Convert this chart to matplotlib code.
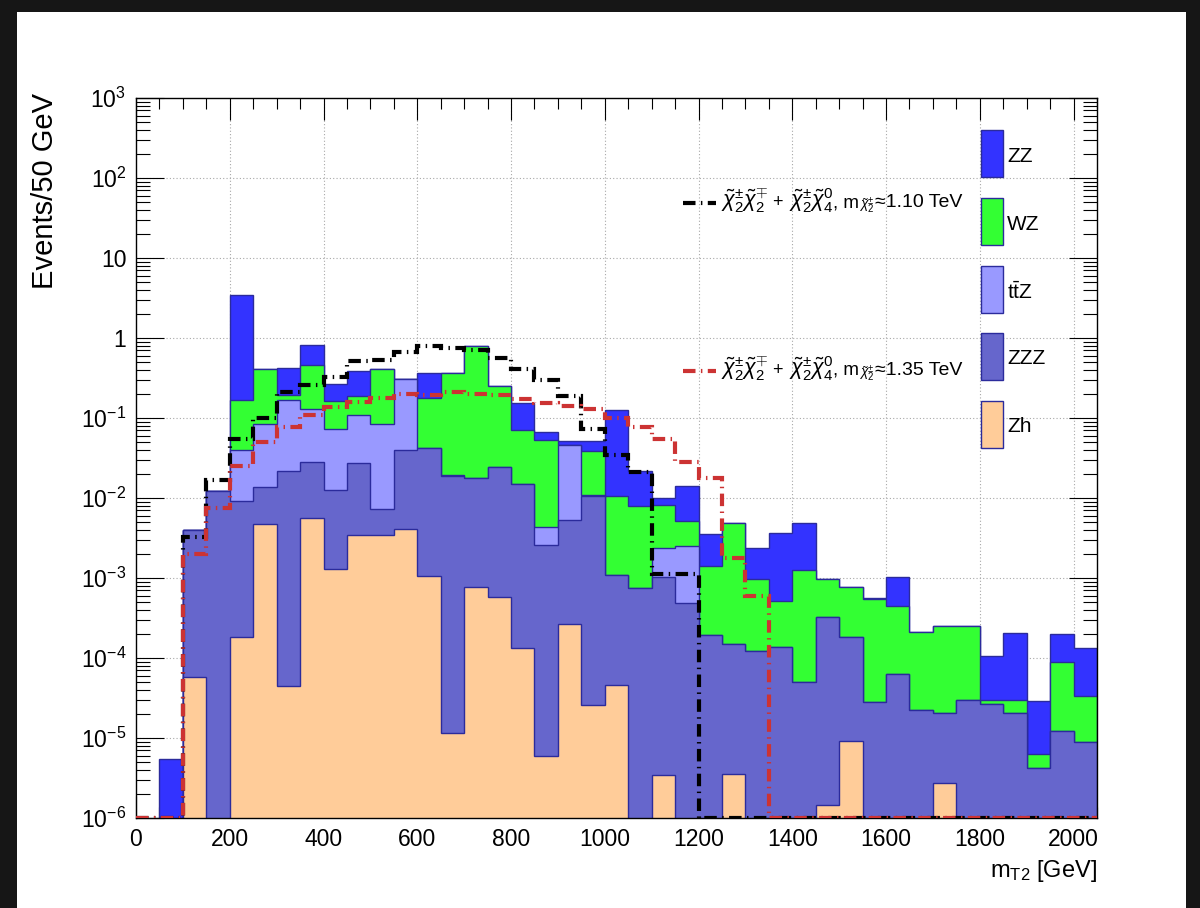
import numpy as np
import matplotlib
matplotlib.use("Agg")
import matplotlib.pyplot as plt
from matplotlib.patches import Rectangle
from matplotlib.lines import Line2D
from matplotlib.ticker import FixedLocator, LogLocator, MultipleLocator, NullFormatter

plt.rcParams["font.family"] = ["Liberation Sans", "DejaVu Sans"]
plt.rcParams["mathtext.fontset"] = "custom"
plt.rcParams["mathtext.rm"] = "Liberation Sans"
plt.rcParams["mathtext.it"] = "Liberation Sans:italic"
plt.rcParams["mathtext.bf"] = "Liberation Sans:bold"

# 50 GeV bins in mT2
edges = np.arange(0, 2051, 50)

# background yields per bin (events / 50 GeV)
zz = [0, 5.5e-6, 0, 0, 3.25, 0, 0.224, 0.36, 0.105, 0.20,
      0, 0, 0.19, 0, 0, 0, 0.083, 0.0143, 5.3e-3, 0.0125,
      0.114, 0.0137, 1.8e-3, 9.0e-3, 2.1e-3, 0, 1.36e-3, 3.15e-3, 3.6e-3, 0,
      0, 2e-5, 5.8e-4, 0, 0, 0, 7.6e-5, 1.75e-4, 2.3e-5, 1.1e-4,
      9.8e-5]
wz = [0, 0, 0, 0, 0.129, 0.322, 0.026, 0.328, 0.089, 0.078,
      0.322, 0, 0.134, 0.348, 0.769, 0.23, 0.056, 0.0484, 0, 0.028,
      9.5e-3, 7.1e-3, 5.85e-3, 2.6e-3, 1.24e-3, 4.7e-3, 8.6e-4, 3.85e-4, 1.21e-3, 6.5e-4,
      5.8e-4, 5.2e-4, 3.9e-4, 1.9e-4, 2.33e-4, 2.2e-4, 3.3e-6, 8.9e-6, 2.06e-6, 7.8e-5,
      2.5e-5]
ttz = [0, 0, 0, 0, 0.0302, 0.0705, 0.146, 0.102, 0.060, 0.080,
       0.077, 0.27, 0, 3e-4, 0, 0, 0, 1.7e-3, 0.0404, 3e-4,
       0, 0, 1.31e-3, 2.02e-3, 0, 0, 0, 0, 0, 0,
       0, 0, 0, 0, 0, 0, 0, 0, 0, 0,
       0]
zzz = [0, 0, 3.94e-3, 0.0122, 9.0e-3, 9.1e-3, 0.0218, 0.0224, 0.0114, 0.0243,
       3.83e-3, 0.0357, 0.0417, 0.0188, 0.0171, 0.0235, 0.015, 2.6e-3, 5.1e-3, 0.0106,
       1.03e-3, 7.41e-4, 1.03e-3, 4.86e-4, 1.92e-4, 1.47e-4, 1.23e-4, 1.36e-4, 5.0e-5, 3.25e-4,
       1.75e-4, 2.84e-5, 6.25e-5, 2.23e-5, 1.79e-5, 2.95e-5, 2.67e-5, 2.06e-5, 4.19e-6, 1.23e-5,
       8.87e-6]
zh = [0, 0, 5.8e-5, 0, 1.82e-4, 4.67e-3, 4.5e-5, 5.6e-3, 1.3e-3, 3.43e-3,
      3.43e-3, 4.14e-3, 1.05e-3, 1.14e-5, 7.63e-4, 5.77e-4, 1.32e-4, 5.94e-6, 2.67e-4, 2.61e-5,
      4.58e-5, 0, 3.43e-6, 0, 0, 3.53e-6, 0, 0, 0, 1.46e-6,
      9.06e-6, 0, 0, 0, 2.72e-6, 0, 0, 0, 0, 0,
      0]

# signal points
sig_110 = [0, 0, 3.3e-3, 0.017, 0.055, 0.10, 0.21, 0.255, 0.33, 0.52,
           0.53, 0.66, 0.80, 0.76, 0.71, 0.56, 0.41, 0.30, 0.19, 0.072,
           0.034, 0.021, 1.13e-3, 1.13e-3, 0, 0, 0, 0, 0, 0,
           0, 0, 0, 0, 0, 0, 0, 0, 0, 0,
           0]
sig_135 = [0, 0, 2.0e-3, 7.6e-3, 0.0254, 0.0506, 0.0763, 0.108, 0.139, 0.158,
           0.179, 0.198, 0.194, 0.21, 0.20, 0.195, 0.175, 0.155, 0.14, 0.13,
           0.099, 0.078, 0.054, 0.028, 0.0178, 1.8e-3, 5.9e-4, 0, 0, 0,
           0, 0, 0, 0, 0, 0, 0, 0, 0, 0,
           0]

bkg_names = ["Zh", "ZZZ", r"t$\bar{\mathrm{t}}$Z", "WZ", "ZZ"]
bkg_colors = ["#ffcc99", "#6666cc", "#9999ff", "#33ff33", "#3333ff"]
sig_masses = ["1.10", "1.35"]
sig_colors = ["black", "#cc3333"]

W, H = 1200, 908
EDGE = "#2b2b9c"
DASH = (0, (3.0, 1.3, 0.35, 1.3))


def fx(px):
    return px / W


def fy(py):
    return 1 - py / H


fig = plt.figure(figsize=(W / 100, H / 100), dpi=100)
ax = fig.add_axes([fx(136), fy(818), fx(1097) - fx(136), fy(98) - fy(818)])
ax.set_yscale("log")

# stacked backgrounds: draw the full sum first, lower layers on top
floor = 1e-9
cum = np.cumsum(np.array([zh, zzz, ttz, wz, zz]), axis=0)
for top, c in zip(cum[::-1], bkg_colors[::-1]):
    ax.stairs(np.where(top > 0, top, floor), edges, baseline=floor, fill=True,
              facecolor=c, edgecolor=EDGE, linewidth=1.0, zorder=2)

for vals, c in zip([sig_110, sig_135], sig_colors):
    ax.stairs(np.maximum(vals, 1e-6), edges, baseline=None, color=c,
              linewidth=3.0, linestyle=DASH, zorder=3)

ax.set_xlim(0, 2050)
ax.set_ylim(1e-6, 1e3)

# dotted grid under the histograms
for x in range(200, 2050, 200):
    ax.axvline(x, color="#a8a8a8", lw=0.8, ls=(0, (1, 2)), zorder=0.5)
for p in range(-5, 3):
    ax.axhline(10.0 ** p, color="#a8a8a8", lw=0.8, ls=(0, (1, 2)), zorder=0.5)

ax.xaxis.set_major_locator(MultipleLocator(200))
ax.xaxis.set_minor_locator(MultipleLocator(50))
decades = [10.0 ** p for p in range(-6, 4)]
ylabels = ["$10^{-6}$", "$10^{-5}$", "$10^{-4}$", "$10^{-3}$", "$10^{-2}$",
           "$10^{-1}$", "1", "10", "$10^{2}$", "$10^{3}$"]
ax.yaxis.set_major_locator(FixedLocator(decades))
ax.set_yticklabels(ylabels)
ax.yaxis.set_minor_locator(LogLocator(base=10, subs=np.arange(2, 10), numticks=30))
ax.yaxis.set_minor_formatter(NullFormatter())

ax.tick_params(which="both", direction="in", top=True, right=True, width=0.8,
               labelsize=16.5)
ax.tick_params(axis="x", which="major", length=16, pad=7)
ax.tick_params(axis="x", which="minor", length=8)
ax.tick_params(axis="y", which="major", length=20, pad=7)
ax.tick_params(axis="y", which="minor", length=10)
for s in ax.spines.values():
    s.set_linewidth(1.0)

fig.text(fx(45), fy(93), "Events/50 GeV", rotation=90, ha="center", va="top", fontsize=21)
fig.text(fx(1097), fy(871), r"m$_{\mathrm{T2}}$ [GeV]", ha="right", va="center", fontsize=17)

# legend: backgrounds in a column on the right
box_tops = [401, 333, 266, 198, 130]
for name, c, top in zip(bkg_names, bkg_colors, box_tops):
    fig.patches.append(Rectangle((fx(981), fy(top + 47)), 22 / W, 47 / H,
                                 transform=fig.transFigure, facecolor=c,
                                 edgecolor=EDGE, linewidth=1.0))
    fig.text(fx(1007), fy(top + 26), name, ha="left", va="center", fontsize=15)


def label_pieces(x_px, y_px, pieces):
    # lay out text pieces of different sizes along one baseline
    renderer = fig.canvas.get_renderer()
    for s, size in pieces:
        t = fig.text(fx(x_px), fy(y_px), s, ha="left", va="baseline", fontsize=size)
        x_px = t.get_window_extent(renderer).x1


# legend: signal points
for m, c, yb in zip(sig_masses, sig_colors, [207, 375]):
    fig.lines.append(Line2D([fx(683), fx(716)], [fy(yb - 4), fy(yb - 4)],
                            transform=fig.transFigure, color=c, lw=3.0, ls=DASH))
    label_pieces(721, yb, [
        (r"$\tilde{\chi}_2^{\pm}\tilde{\chi}_2^{\mp}$", 15.5),
        (" + ", 13),
        (r"$\tilde{\chi}_2^{\pm}\tilde{\chi}_4^{0}$", 15.5),
        (", m", 13.5),
        (r"$_{\tilde{\chi}_2^{\pm}}$", 14),
        ("≈" + m + " TeV", 14),
    ])

# dark window border
for x0, y0, w, h in [(0, fy(12), 1, 12 / H), (0, 0, 17 / W, 1), (fx(1186), 0, 14 / W, 1)]:
    fig.patches.append(Rectangle((x0, y0), w, h, transform=fig.transFigure,
                                 facecolor="#161616", edgecolor="none"))

fig.savefig("out.png", dpi=100)
